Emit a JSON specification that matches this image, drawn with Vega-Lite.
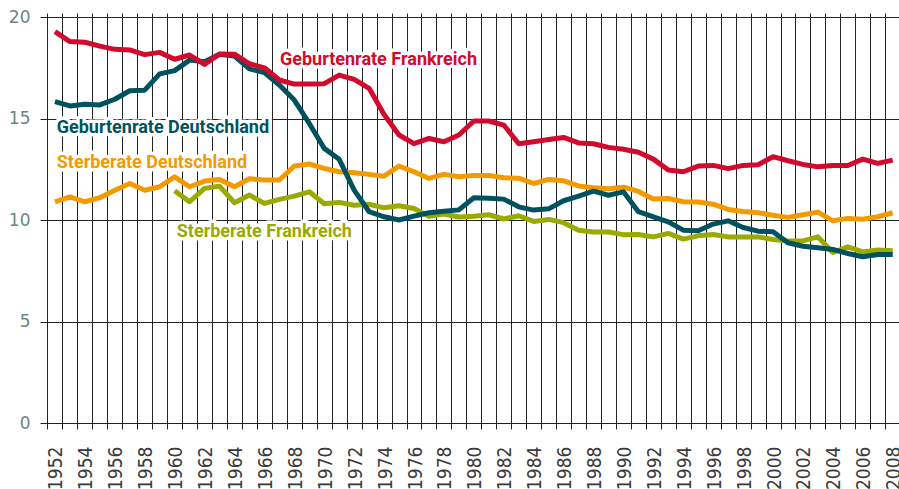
{
  "$schema": "https://vega.github.io/schema/vega-lite/v6.json",
  "width": 859,
  "height": 410,
  "autosize": {"type": "none"},
  "padding": {"left": 40, "top": 13, "right": 0, "bottom": 66},
  "background": "white",
  "config": {"view": {"stroke": null}},
  "datasets": {
    "rates": [
      {"year": 1952, "geb_fr": 19.28, "geb_de": 15.83, "ster_de": 10.9, "ster_fr": null},
      {"year": 1953, "geb_fr": 18.79, "geb_de": 15.62, "ster_de": 11.14, "ster_fr": null},
      {"year": 1954, "geb_fr": 18.76, "geb_de": 15.7, "ster_de": 10.9, "ster_fr": null},
      {"year": 1955, "geb_fr": 18.57, "geb_de": 15.67, "ster_de": 11.1, "ster_fr": null},
      {"year": 1956, "geb_fr": 18.41, "geb_de": 15.95, "ster_de": 11.47, "ster_fr": null},
      {"year": 1957, "geb_fr": 18.38, "geb_de": 16.37, "ster_de": 11.8, "ster_fr": null},
      {"year": 1958, "geb_fr": 18.15, "geb_de": 16.4, "ster_de": 11.47, "ster_fr": null},
      {"year": 1959, "geb_fr": 18.26, "geb_de": 17.2, "ster_de": 11.64, "ster_fr": null},
      {"year": 1960, "geb_fr": 17.92, "geb_de": 17.36, "ster_de": 12.13, "ster_fr": 11.44},
      {"year": 1961, "geb_fr": 18.13, "geb_de": 17.88, "ster_de": 11.64, "ster_fr": 10.9},
      {"year": 1962, "geb_fr": 17.67, "geb_de": 17.8, "ster_de": 11.92, "ster_fr": 11.56},
      {"year": 1963, "geb_fr": 18.18, "geb_de": 18.17, "ster_de": 12.0, "ster_fr": 11.67},
      {"year": 1964, "geb_fr": 18.17, "geb_de": 18.08, "ster_de": 11.64, "ster_fr": 10.85},
      {"year": 1965, "geb_fr": 17.7, "geb_de": 17.45, "ster_de": 12.03, "ster_fr": 11.23},
      {"year": 1966, "geb_fr": 17.5, "geb_de": 17.26, "ster_de": 11.97, "ster_fr": 10.82},
      {"year": 1967, "geb_fr": 16.9, "geb_de": 16.65, "ster_de": 11.97, "ster_fr": 11.02},
      {"year": 1968, "geb_fr": 16.7, "geb_de": 15.91, "ster_de": 12.66, "ster_fr": 11.18},
      {"year": 1969, "geb_fr": 16.7, "geb_de": 14.76, "ster_de": 12.76, "ster_fr": 11.39},
      {"year": 1970, "geb_fr": 16.72, "geb_de": 13.53, "ster_de": 12.54, "ster_fr": 10.8},
      {"year": 1971, "geb_fr": 17.14, "geb_de": 12.99, "ster_de": 12.38, "ster_fr": 10.87},
      {"year": 1972, "geb_fr": 16.93, "geb_de": 11.47, "ster_de": 12.33, "ster_fr": 10.73},
      {"year": 1973, "geb_fr": 16.49, "geb_de": 10.41, "ster_de": 12.25, "ster_fr": 10.78},
      {"year": 1974, "geb_fr": 15.2, "geb_de": 10.16, "ster_de": 12.16, "ster_fr": 10.6},
      {"year": 1975, "geb_fr": 14.19, "geb_de": 10.0, "ster_de": 12.66, "ster_fr": 10.7},
      {"year": 1976, "geb_fr": 13.76, "geb_de": 10.19, "ster_de": 12.38, "ster_fr": 10.57},
      {"year": 1977, "geb_fr": 14.02, "geb_de": 10.36, "ster_de": 12.05, "ster_fr": 10.18},
      {"year": 1978, "geb_fr": 13.86, "geb_de": 10.43, "ster_de": 12.25, "ster_fr": 10.3},
      {"year": 1979, "geb_fr": 14.19, "geb_de": 10.5, "ster_de": 12.13, "ster_fr": 10.15},
      {"year": 1980, "geb_fr": 14.88, "geb_de": 11.1, "ster_de": 12.2, "ster_fr": 10.19},
      {"year": 1981, "geb_fr": 14.88, "geb_de": 11.07, "ster_de": 12.2, "ster_fr": 10.26},
      {"year": 1982, "geb_fr": 14.68, "geb_de": 11.03, "ster_de": 12.08, "ster_fr": 10.05},
      {"year": 1983, "geb_fr": 13.76, "geb_de": 10.65, "ster_de": 12.06, "ster_fr": 10.21},
      {"year": 1984, "geb_fr": 13.86, "geb_de": 10.49, "ster_de": 11.8, "ster_fr": 9.93},
      {"year": 1985, "geb_fr": 13.97, "geb_de": 10.55, "ster_de": 12.0, "ster_fr": 10.03},
      {"year": 1986, "geb_fr": 14.07, "geb_de": 10.95, "ster_de": 11.93, "ster_fr": 9.87},
      {"year": 1987, "geb_fr": 13.8, "geb_de": 11.18, "ster_de": 11.68, "ster_fr": 9.5},
      {"year": 1988, "geb_fr": 13.76, "geb_de": 11.42, "ster_de": 11.59, "ster_fr": 9.41},
      {"year": 1989, "geb_fr": 13.58, "geb_de": 11.22, "ster_de": 11.54, "ster_fr": 9.41},
      {"year": 1990, "geb_fr": 13.49, "geb_de": 11.39, "ster_de": 11.62, "ster_fr": 9.28},
      {"year": 1991, "geb_fr": 13.34, "geb_de": 10.41, "ster_de": 11.41, "ster_fr": 9.29},
      {"year": 1992, "geb_fr": 13.0, "geb_de": 10.16, "ster_de": 11.04, "ster_fr": 9.17},
      {"year": 1993, "geb_fr": 12.46, "geb_de": 9.91, "ster_de": 11.06, "ster_fr": 9.34},
      {"year": 1994, "geb_fr": 12.38, "geb_de": 9.5, "ster_de": 10.9, "ster_fr": 9.06},
      {"year": 1995, "geb_fr": 12.66, "geb_de": 9.47, "ster_de": 10.89, "ster_fr": 9.22},
      {"year": 1996, "geb_fr": 12.69, "geb_de": 9.8, "ster_de": 10.78, "ster_fr": 9.29},
      {"year": 1997, "geb_fr": 12.53, "geb_de": 9.96, "ster_de": 10.52, "ster_fr": 9.17},
      {"year": 1998, "geb_fr": 12.69, "geb_de": 9.63, "ster_de": 10.42, "ster_fr": 9.17},
      {"year": 1999, "geb_fr": 12.72, "geb_de": 9.45, "ster_de": 10.36, "ster_fr": 9.17},
      {"year": 2000, "geb_fr": 13.12, "geb_de": 9.42, "ster_de": 10.24, "ster_fr": 9.04},
      {"year": 2001, "geb_fr": 12.92, "geb_de": 8.88, "ster_de": 10.13, "ster_fr": 8.97},
      {"year": 2002, "geb_fr": 12.74, "geb_de": 8.71, "ster_de": 10.26, "ster_fr": 8.97},
      {"year": 2003, "geb_fr": 12.62, "geb_de": 8.63, "ster_de": 10.39, "ster_fr": 9.17},
      {"year": 2004, "geb_fr": 12.69, "geb_de": 8.55, "ster_de": 9.96, "ster_fr": 8.4},
      {"year": 2005, "geb_fr": 12.69, "geb_de": 8.35, "ster_de": 10.08, "ster_fr": 8.68},
      {"year": 2006, "geb_fr": 13.0, "geb_de": 8.19, "ster_de": 10.04, "ster_fr": 8.43},
      {"year": 2007, "geb_fr": 12.79, "geb_de": 8.3, "ster_de": 10.16, "ster_fr": 8.52},
      {"year": 2008, "geb_fr": 12.95, "geb_de": 8.3, "ster_de": 10.36, "ster_fr": 8.49}
    ],
    "labels": [
      {"label": "Geburtenrate Frankreich", "year": 1967.04, "value": 17.88},
      {"label": "Geburtenrate Deutschland", "year": 1952.12, "value": 14.52},
      {"label": "Sterberate Deutschland", "year": 1952.12, "value": 12.82},
      {"label": "Sterberate Frankreich", "year": 1960.14, "value": 9.39}
    ]
  },
  "layer": [
    {
      "data": {"name": "labels"},
      "mark": {"type": "text", "align": "left", "baseline": "middle", "font": "Roboto", "fontSize": 18, "fontWeight": "bold", "fill": "white", "stroke": "white", "strokeWidth": 7, "strokeJoin": "round"},
      "encoding": {
        "x": {"field": "year", "type": "quantitative", "title": null, "scale": {"domain": [1951, 2008.42], "nice": false, "zero": false},
          "axis": {"title": null, "values": [1952,1953,1954,1955,1956,1957,1958,1959,1960,1961,1962,1963,1964,1965,1966,1967,1968,1969,1970,1971,1972,1973,1974,1975,1976,1977,1978,1979,1980,1981,1982,1983,1984,1985,1986,1987,1988,1989,1990,1991,1992,1993,1994,1995,1996,1997,1998,1999,2000,2001,2002,2003,2004,2005,2006,2007,2008],
            "tickCount": 100, "format": "d", "labelExpr": "datum.value % 2 == 0 ? datum.label : ''", "labelAngle": 270, "labelAlign": "right", "labelBaseline": "middle", "labelFont": "DejaVu Sans Condensed, DejaVu Sans", "labelFontSize": 19, "labelColor": "#3a3a3a", "labelPadding": 17, "labelOverlap": false, "labelFlush": false, "labelBound": false, "tickOffset": -7.48, "labelOffset": 8.5, "ticks": true, "tickSize": 6, "tickColor": "#222222", "tickWidth": 1, "grid": true, "gridColor": "#222222", "gridWidth": 1, "gridOpacity": 1, "domain": false}},
        "y": {"field": "value", "type": "quantitative", "title": null, "scale": {"domain": [0, 20.2], "nice": false},
          "axis": {"title": null, "values": [0, 5, 10, 15, 20], "labelFont": "DejaVu Sans", "labelFontSize": 17, "labelColor": "#6b8782", "labelPadding": 10, "ticks": false, "tickSize": 0, "grid": true, "gridColor": "#222222", "gridWidth": 1, "gridOpacity": 1, "domain": false, "labelFlush": false}},
        "text": {"field": "label"}
      }
    },
    {
      "data": {"name": "rates"},
      "mark": {"type": "line", "color": "#f39a00", "strokeWidth": 5, "strokeJoin": "round"},
      "encoding": {"x": {"field": "year", "type": "quantitative", "title": null}, "y": {"field": "ster_de", "type": "quantitative", "title": null}}
    },
    {
      "data": {"name": "rates"},
      "mark": {"type": "line", "color": "#9aaa00", "strokeWidth": 5, "strokeJoin": "round"},
      "encoding": {"x": {"field": "year", "type": "quantitative", "title": null}, "y": {"field": "ster_fr", "type": "quantitative", "title": null}}
    },
    {
      "data": {"name": "rates"},
      "mark": {"type": "line", "color": "#00525f", "strokeWidth": 5, "strokeJoin": "round"},
      "encoding": {"x": {"field": "year", "type": "quantitative", "title": null}, "y": {"field": "geb_de", "type": "quantitative", "title": null}}
    },
    {
      "data": {"name": "rates"},
      "mark": {"type": "line", "color": "#d20a2e", "strokeWidth": 5, "strokeJoin": "round"},
      "encoding": {"x": {"field": "year", "type": "quantitative", "title": null}, "y": {"field": "geb_fr", "type": "quantitative", "title": null}}
    },
    {
      "data": {"name": "labels"},
      "mark": {"type": "text", "align": "left", "baseline": "middle", "font": "Roboto", "fontSize": 18, "fontWeight": "bold"},
      "encoding": {
        "x": {"field": "year", "type": "quantitative", "title": null},
        "y": {"field": "value", "type": "quantitative", "title": null},
        "text": {"field": "label"},
        "color": {"field": "label", "type": "nominal", "legend": null,
          "scale": {"domain": ["Geburtenrate Frankreich", "Geburtenrate Deutschland", "Sterberate Deutschland", "Sterberate Frankreich"], "range": ["#d20a2e", "#00525f", "#f39a00", "#9aaa00"]}}
      }
    }
  ]
}
